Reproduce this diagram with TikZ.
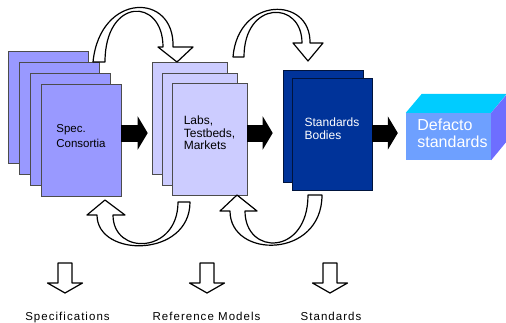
\documentclass[tikz,border=0pt]{standalone}
\usepackage{fontspec}
\setmainfont{Liberation Sans}
\newfontfamily\spacedfont{Liberation Sans}[LetterSpace=9]
\usepackage{tikz}
\usetikzlibrary{arrows.meta,positioning,calc}
\usepackage{color}
\definecolor{specblue}{RGB}{153,153,255}
\definecolor{labsblue}{RGB}{204,204,255}
\definecolor{stdblue}{RGB}{0,51,153}
\definecolor{facefront}{RGB}{110,160,255}
\definecolor{facetop}{RGB}{0,204,255}
\definecolor{faceside}{RGB}{110,110,255}

\tikzset{
  page/.style={draw=black!70, line width=0.6pt, minimum width=80pt, minimum height=112pt, inner sep=0pt},
  spec/.style={page, fill=specblue},
  labs/.style={page, fill=labsblue, minimum width=75pt},
  std/.style={page, fill=stdblue, draw=black!60!stdblue},
  inside/.style={align=left, inner sep=0pt},
  flow/.style={line width=17pt, -{Triangle[width=33pt,length=10pt]}},
  hollow/.style={draw=black, fill=white, line width=1.2pt, line join=round},
  caption/.style={font=\spacedfont\fontsize{11.5}{14}\selectfont, anchor=base}
}

\begin{document}
\begin{tikzpicture}[x=1pt, y=-1pt]
    \useasboundingbox (0,0) rectangle (506,322);
    \coordinate (axis) at (0,133);

    % spec. consortia stack
    \node [spec] (s1) at (48,107.5) {};
    \node [spec] (s2) at (59,118.5) {};
    \node [spec] (s3) at (70,129) {};
    \node [spec] (s4) at (81,140.5) {};
    \node [inside, font=\fontsize{11.5}{15}\selectfont] (spectxt) at ([yshift=4pt]s4.center) { Spec.\\Consortia };

    % labs stack
    \node [labs] (l1) at (189.5,118.5) {};
    \node [labs] (l2) at (199.5,129) {};
    \node [labs] (l3) at (209.5,139) {};
    \node [inside, font=\fontsize{12}{12.5}\selectfont] (labstxt) at ([yshift=6pt]l3.center) { Labs,\\Testbeds,\\Markets };

    % standards bodies
    \node [std] (b1) at (323,126) {};
    \node [std] (b2) at (332,134.5) {};
    \node [inside, text=white, font=\fontsize{12}{13}\selectfont] (stdtxt) at ([yshift=5.5pt]b2.center) { Standards\\Bodies };

    % defacto box
    \node [fill=facefront, minimum width=85pt, minimum height=47pt, inner sep=0pt] (defacto) at (448.5,136.5) {};
    \fill [facetop] (defacto.north west) -- ++(16,-19) -- ++(85,0) -- (defacto.north east) -- cycle;
    \fill [faceside] (defacto.north east) -- ++(16,-19) -- ++(0,47) -- (defacto.south east) -- cycle;
    \node [inside, text=white, font=\fontsize{16}{17}\selectfont] (defactotxt) at ([xshift=4pt,yshift=3pt]defacto.center) { Defacto\\standards };

    \draw [flow, shorten >=4pt] (s4.east |- axis) -- (l1.west |- axis);
    \draw [flow, shorten >=10pt] (l3.east |- axis) -- (b1.west |- axis);
    \draw [flow, shorten >=8pt] (b2.east |- axis) -- (defacto.west |- axis);

    % feedback loops
    \draw [hollow] (93,62) .. controls (100,-8) and (175,-8) .. (173,47) -- (193,47) -- (177,62) -- (158,47) -- (163,47) .. controls (163,-3) and (105,-3) .. (105,62) -- cycle;
    \draw [hollow] (233,57) .. controls (238,-4) and (311,-4) .. (310,43) -- (323,43) -- (308,61) -- (293,43) -- (302,43) .. controls (302,0) and (244,0) .. (244,57) -- cycle;
    \draw [hollow] (105,200) -- (125,215) -- (113,215) .. controls (113,256) and (178,254) .. (178,202) -- (190,202) .. controls (190,258) and (97,258) .. (97,215) -- (87,215) -- cycle;
    \draw [hollow] (237,195) -- (257,211) -- (245,211) .. controls (245,256) and (308,256) .. (308,195) -- (322,195) .. controls (322,259) and (230,259) .. (230,211) -- (220,211) -- cycle;

    % outputs
    \draw [hollow] (58,263) -- (72,263) -- (72,283) -- (82.5,283) -- (65,293) -- (47.5,283) -- (58,283) -- cycle;
    \draw [hollow] (200,263) -- (214,263) -- (214,283) -- (224.5,283) -- (207,293) -- (189.5,283) -- (200,283) -- cycle;
    \draw [hollow] (323,263) -- (337,263) -- (337,283) -- (347.5,283) -- (330,293) -- (312.5,283) -- (323,283) -- cycle;

    \node [caption] (specs) at (67.5,320) { Specifications };
    \node [caption] (refmod) at (206.5,320) { Reference Models };
    \node [caption] (stds) at (331,320) { Standards };
\end{tikzpicture}
\end{document}
